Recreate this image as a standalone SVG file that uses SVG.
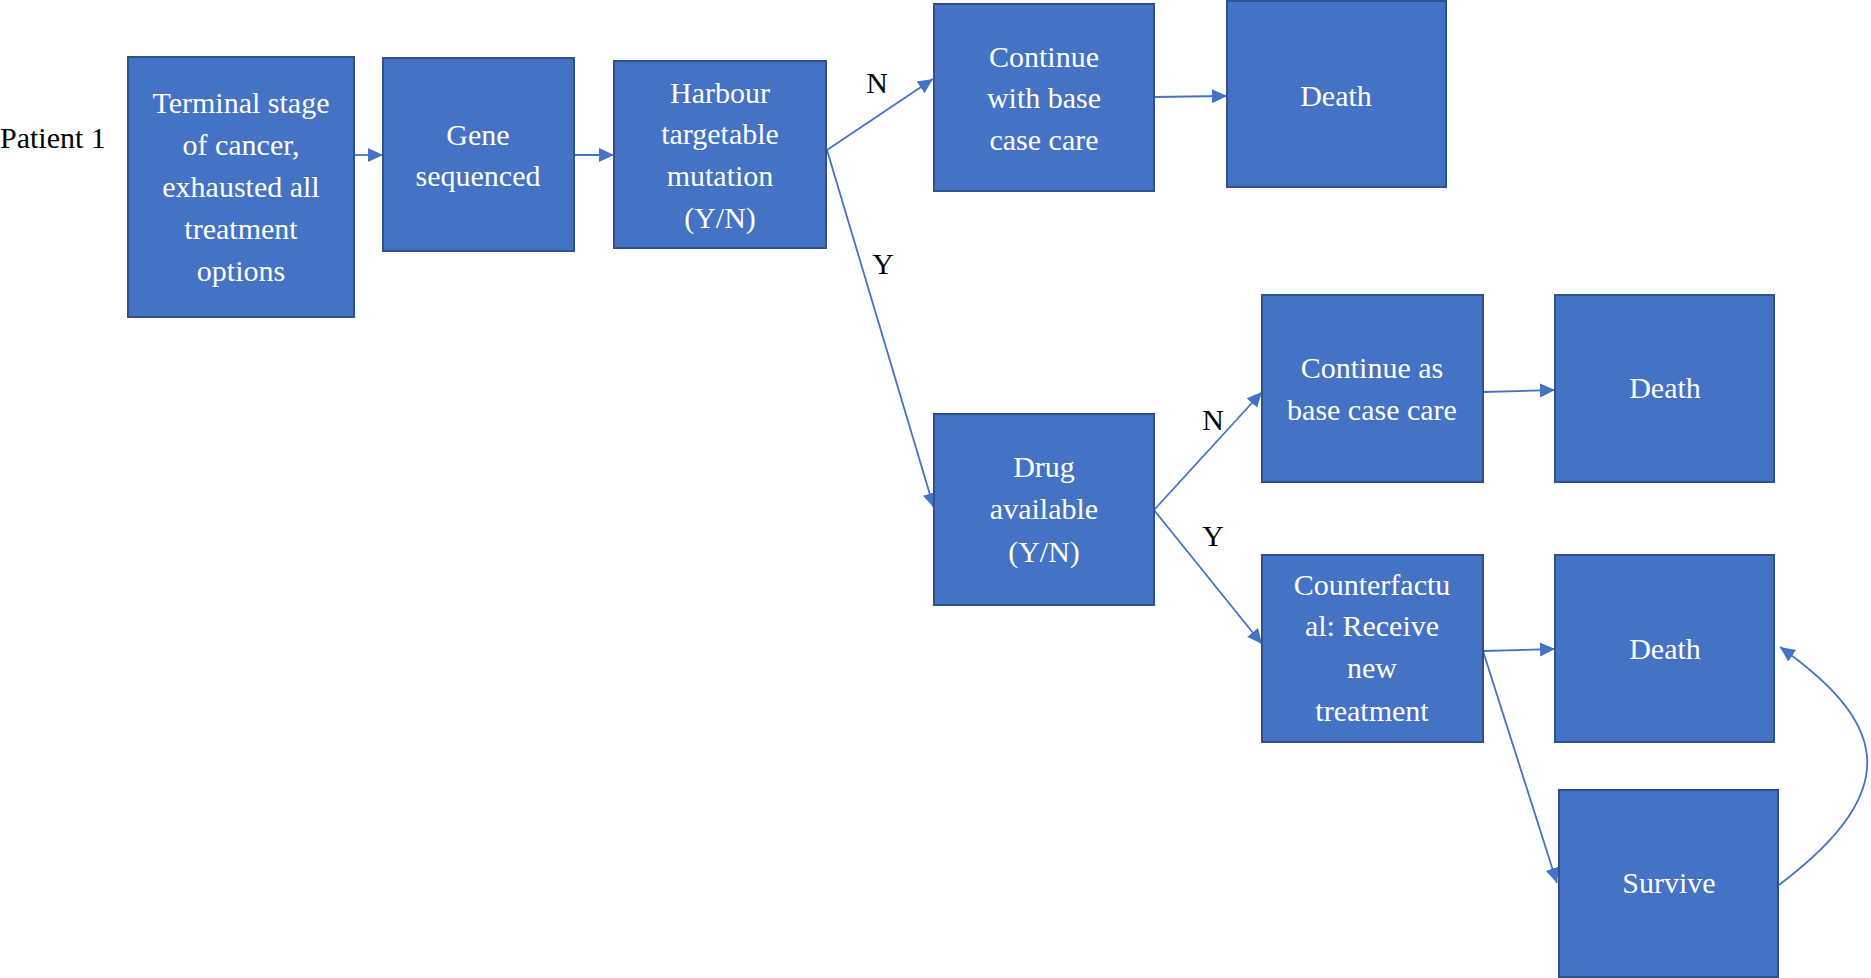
<svg xmlns="http://www.w3.org/2000/svg" width="1871" height="978" viewBox="0 0 1871 978">
<style>
.box{fill:#4472C4;stroke:#2F528F;stroke-width:2}
.t{font-family:"Liberation Serif","Times New Roman",serif;font-size:30px;fill:#ffffff;text-anchor:middle}
.lbl{font-family:"Liberation Serif","Times New Roman",serif;font-size:30px;fill:#000000}
.c{fill:none;stroke:#4472C4;stroke-width:1.8}
</style>
<defs>
<marker id="arr" markerUnits="userSpaceOnUse" markerWidth="16" markerHeight="16" viewBox="0 0 16 16" refX="15" refY="8" orient="auto">
<path d="M0,1 L15,8 L0,15 Z" fill="#4472C4"/>
</marker>
</defs>
<rect width="1871" height="978" fill="#ffffff"/>
<text class="lbl" x="0" y="148">Patient 1</text>
<g id="connectors">
<line class="c" x1="354" y1="155" x2="383" y2="155" marker-end="url(#arr)"/>
<line class="c" x1="574" y1="155" x2="614" y2="155" marker-end="url(#arr)"/>
<line class="c" x1="827" y1="150" x2="933" y2="79" marker-end="url(#arr)"/>
<line class="c" x1="827" y1="150" x2="934" y2="508" marker-end="url(#arr)"/>
<line class="c" x1="1154" y1="97" x2="1227" y2="96" marker-end="url(#arr)"/>
<line class="c" x1="1154" y1="510" x2="1262" y2="392" marker-end="url(#arr)"/>
<line class="c" x1="1154" y1="510" x2="1262" y2="644" marker-end="url(#arr)"/>
<line class="c" x1="1483" y1="392" x2="1555" y2="390" marker-end="url(#arr)"/>
<line class="c" x1="1483" y1="651" x2="1555" y2="649" marker-end="url(#arr)"/>
<line class="c" x1="1483" y1="651" x2="1557" y2="883" marker-end="url(#arr)"/>
<path class="c" d="M1779,885 C1912,785 1880,718 1780,647" marker-end="url(#arr)"/>
<text class="lbl" x="877" y="93" text-anchor="middle">N</text>
<text class="lbl" x="883" y="274" text-anchor="middle">Y</text>
<text class="lbl" x="1213" y="430" text-anchor="middle">N</text>
<text class="lbl" x="1213" y="546" text-anchor="middle">Y</text>
</g>
<g id="n1"><rect class="box" x="128" y="57" width="226" height="260"/>
<text class="t" x="241" y="113">Terminal stage</text>
<text class="t" x="241" y="155">of  cancer,</text>
<text class="t" x="241" y="197">exhausted all</text>
<text class="t" x="241" y="239">treatment</text>
<text class="t" x="241" y="281">options</text></g>
<g id="n2"><rect class="box" x="383" y="58" width="191" height="193"/>
<text class="t" x="478" y="145">Gene</text>
<text class="t" x="478" y="186">sequenced</text></g>
<g id="n3"><rect class="box" x="614" y="61" width="212" height="187"/>
<text class="t" x="720" y="103">Harbour</text>
<text class="t" x="720" y="144">targetable</text>
<text class="t" x="720" y="186">mutation</text>
<text class="t" x="720" y="228">(Y/N)</text></g>
<g id="n4"><rect class="box" x="934" y="4" width="220" height="187"/>
<text class="t" x="1044" y="67">Continue</text>
<text class="t" x="1044" y="108">with base</text>
<text class="t" x="1044" y="150">case care</text></g>
<g id="n5"><rect class="box" x="1227" y="1" width="219" height="186"/>
<text class="t" x="1336" y="106">Death</text></g>
<g id="n6"><rect class="box" x="1262" y="295" width="221" height="187"/>
<text class="t" x="1372" y="378">Continue as</text>
<text class="t" x="1372" y="420">base case care</text></g>
<g id="n7"><rect class="box" x="1555" y="295" width="219" height="187"/>
<text class="t" x="1665" y="398">Death</text></g>
<g id="n8"><rect class="box" x="934" y="414" width="220" height="191"/>
<text class="t" x="1044" y="477">Drug</text>
<text class="t" x="1044" y="519">available</text>
<text class="t" x="1044" y="562">(Y/N)</text></g>
<g id="n9"><rect class="box" x="1262" y="555" width="221" height="187"/>
<text class="t" x="1372" y="595">Counterfactu</text>
<text class="t" x="1372" y="636">al: Receive</text>
<text class="t" x="1372" y="678">new</text>
<text class="t" x="1372" y="721">treatment</text></g>
<g id="n10"><rect class="box" x="1555" y="555" width="219" height="187"/>
<text class="t" x="1665" y="659">Death</text></g>
<g id="n11"><rect class="box" x="1559" y="790" width="219" height="187"/>
<text class="t" x="1669" y="893">Survive</text></g>
</svg>
